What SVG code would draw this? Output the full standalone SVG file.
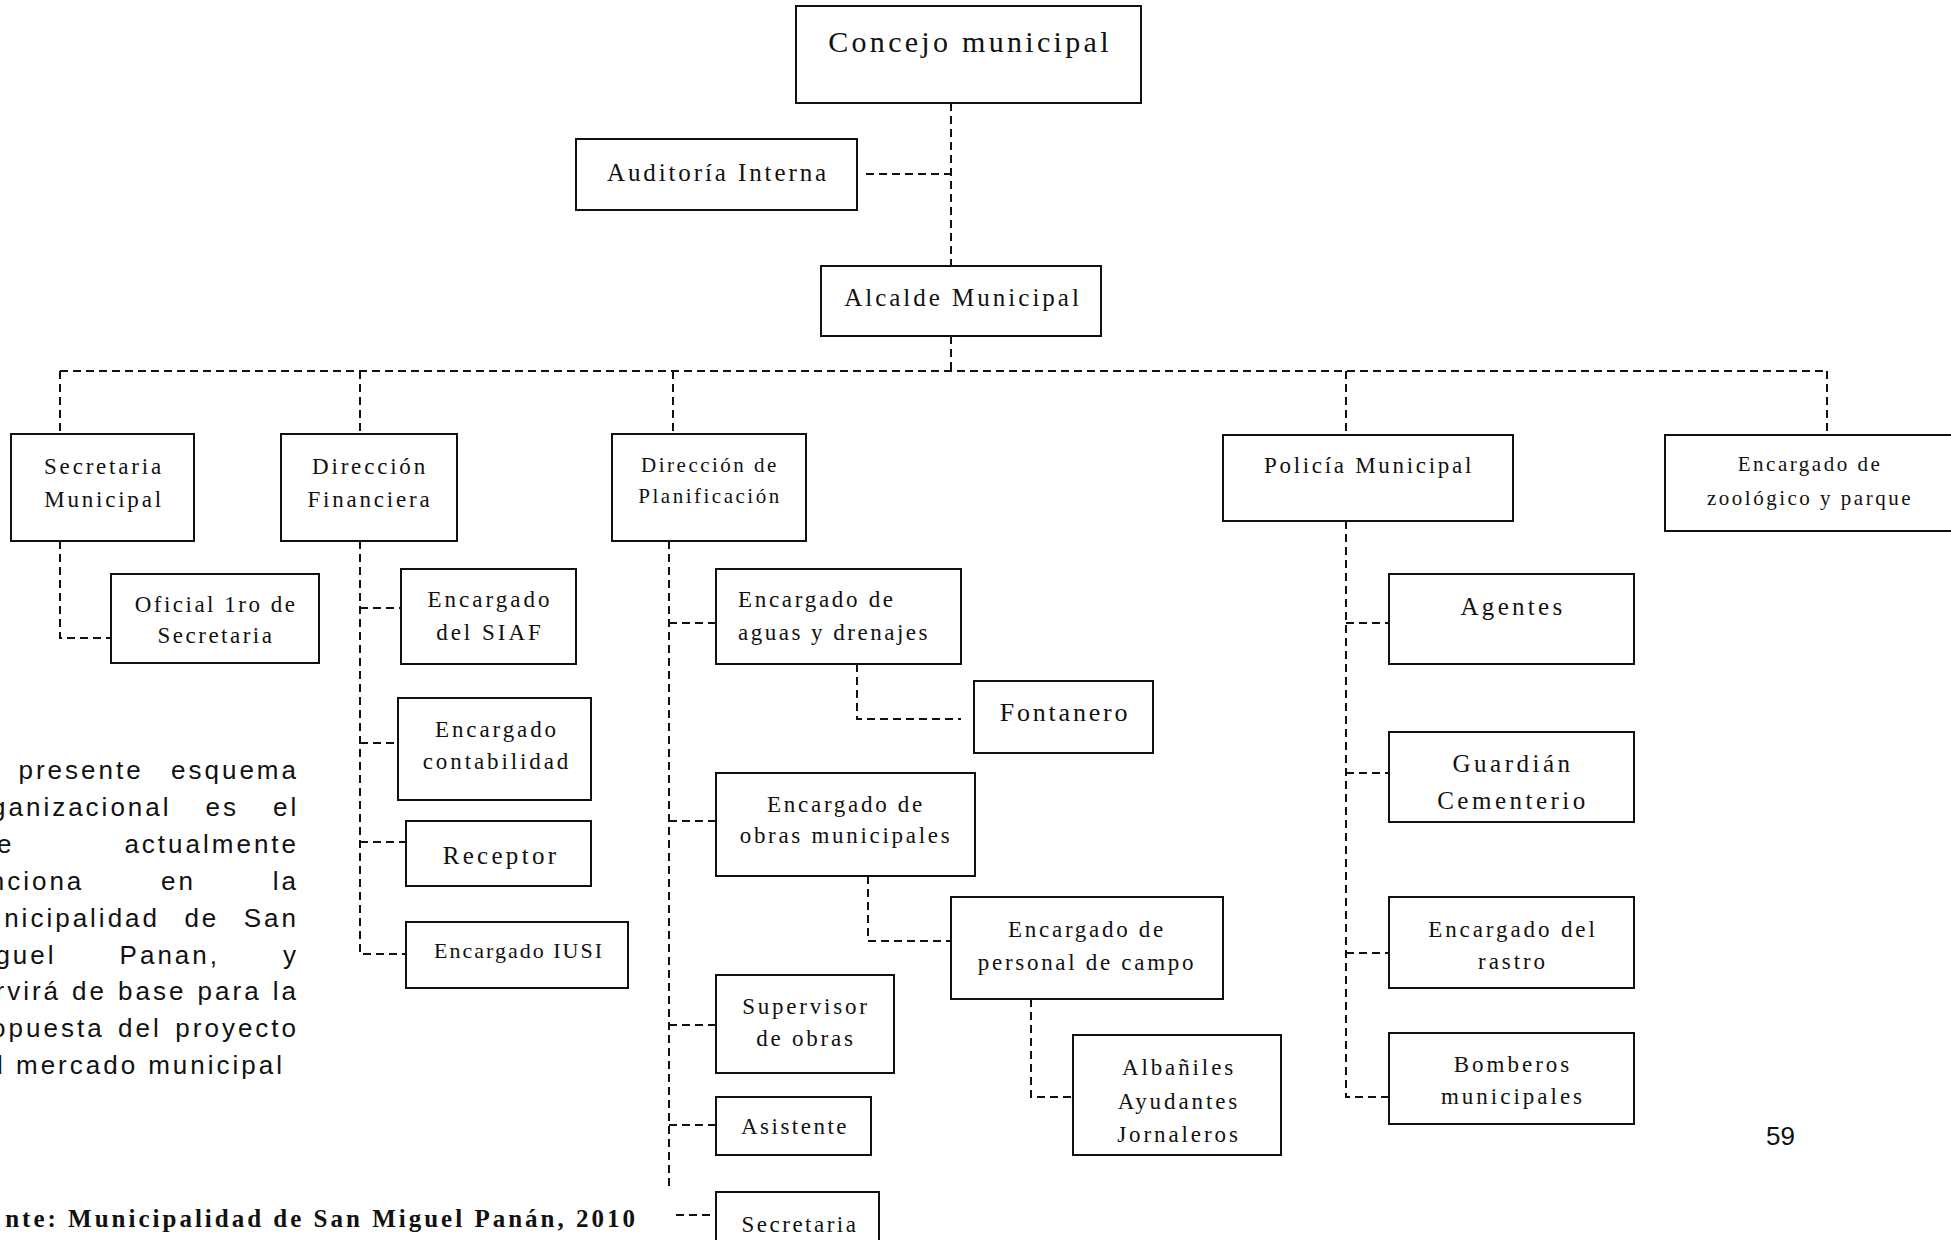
<svg xmlns="http://www.w3.org/2000/svg" width="1951" height="1240" viewBox="0 0 1951 1240">
<style>
.box{fill:#fff;stroke:#111;stroke-width:2}
.c{fill:none;stroke:#111;stroke-width:2;stroke-dasharray:8 5}
.t{font-family:"Liberation Serif","Times New Roman",serif;fill:#111;text-anchor:middle}
.f21{font-size:21px;letter-spacing:2.5px}
.f22{font-size:22px;letter-spacing:2px}
.f23{font-size:23px;letter-spacing:2.8px}
.f26{font-size:26px;letter-spacing:2.8px}
.p{font-family:"Liberation Sans",Arial,sans-serif;font-size:26px;letter-spacing:3px;fill:#111}
.foot{font-family:"Liberation Serif","Times New Roman",serif;font-size:25px;font-weight:bold;letter-spacing:3px;fill:#111;text-anchor:end}
</style>
<rect width="1951" height="1240" fill="#fff"/>
<g id="connectors">
<path class="c" d="M951,103V266M866,174H951M951,336V371M60,371H1827M60,371V434M360,371V434M673,371V434M1346,371V435M1827,371V435"/>
<path class="c" d="M60,541V638H111"/>
<path class="c" d="M360,541V954H406M360,608H401M360,743H398M360,842H406"/>
<path class="c" d="M669,541V1187M669,623H716M669,821H716M669,1025H716M669,1125H716M676,1215H712"/>
<path class="c" d="M857,664V719H961M868,876V941H951M1031,999V1097H1073"/>
<path class="c" d="M1346,521V1097H1389M1346,623H1389M1346,773H1389M1346,953H1389"/>
</g>
<g id="concejo"><rect class="box" x="796" y="6" width="345" height="97"/><text class="t" x="970" y="52" style="font-size:30px;letter-spacing:3.3px">Concejo municipal</text></g>
<g id="auditoria"><rect class="box" x="576" y="139" width="281" height="71"/><text class="t" x="718" y="181" style="font-size:25px;letter-spacing:2.9px">Auditoría Interna</text></g>
<g id="alcalde"><rect class="box" x="821" y="266" width="280" height="70"/><text class="t" x="963" y="306" style="font-size:25px;letter-spacing:3px">Alcalde Municipal</text></g>
<g id="secretaria-municipal"><rect class="box" x="11" y="434" width="183" height="107"/><text class="t f23" x="104" y="474">Secretaria</text><text class="t f23" x="104" y="507">Municipal</text></g>
<g id="direccion-financiera"><rect class="box" x="281" y="434" width="176" height="107"/><text class="t f23" x="370" y="474">Dirección</text><text class="t f23" x="370" y="507">Financiera</text></g>
<g id="direccion-planificacion"><rect class="box" x="612" y="434" width="194" height="107"/><text class="t f21" x="710" y="472">Dirección de</text><text class="t f21" x="710" y="503">Planificación</text></g>
<g id="policia"><rect class="box" x="1223" y="435" width="290" height="86"/><text class="t" x="1369" y="473" style="font-size:23px;letter-spacing:2.7px">Policía Municipal</text></g>
<g id="zoologico"><rect class="box" x="1665" y="435" width="300" height="96"/><text class="t f21" x="1810" y="471">Encargado de</text><text class="t f21" x="1810" y="505">zoológico y parque</text></g>
<g id="oficial"><rect class="box" x="111" y="574" width="208" height="89"/><text class="t" x="216" y="612" style="font-size:23px;letter-spacing:2.5px">Oficial 1ro de</text><text class="t" x="216" y="643" style="font-size:23px;letter-spacing:2.5px">Secretaria</text></g>
<g id="siaf"><rect class="box" x="401" y="569" width="175" height="95"/><text class="t" x="490" y="607" style="font-size:23px;letter-spacing:3px">Encargado</text><text class="t" x="490" y="640" style="font-size:23px;letter-spacing:3px">del SIAF</text></g>
<g id="contabilidad"><rect class="box" x="398" y="698" width="193" height="102"/><text class="t" x="497" y="737" style="font-size:23px;letter-spacing:2.9px">Encargado</text><text class="t" x="497" y="769" style="font-size:23px;letter-spacing:2.9px">contabilidad</text></g>
<g id="receptor"><rect class="box" x="406" y="821" width="185" height="65"/><text class="t" x="501" y="864" style="font-size:25px;letter-spacing:3.3px">Receptor</text></g>
<g id="iusi"><rect class="box" x="406" y="922" width="222" height="66"/><text class="t f22" x="519" y="958">Encargado IUSI</text></g>
<g id="aguas"><rect class="box" x="716" y="569" width="245" height="95"/><text class="t" x="738" y="607" style="font-size:23px;letter-spacing:2.7px;text-anchor:start">Encargado de</text><text class="t" x="738" y="640" style="font-size:23px;letter-spacing:2.5px;text-anchor:start">aguas y drenajes</text></g>
<g id="fontanero"><rect class="box" x="974" y="681" width="179" height="72"/><text class="t f26" x="1065" y="721">Fontanero</text></g>
<g id="obras"><rect class="box" x="716" y="773" width="259" height="103"/><text class="t" x="846" y="812" style="font-size:23px;letter-spacing:2.7px">Encargado de</text><text class="t" x="846" y="843" style="font-size:23px;letter-spacing:2.7px">obras municipales</text></g>
<g id="personal"><rect class="box" x="951" y="897" width="272" height="102"/><text class="t" x="1087" y="937" style="font-size:23px;letter-spacing:2.7px">Encargado de</text><text class="t" x="1087" y="970" style="font-size:23px;letter-spacing:2.7px">personal de campo</text></g>
<g id="albaniles"><rect class="box" x="1073" y="1035" width="208" height="120"/><text class="t" x="1179" y="1075" style="font-size:23px;letter-spacing:2.9px">Albañiles</text><text class="t" x="1179" y="1109" style="font-size:23px;letter-spacing:2.9px">Ayudantes</text><text class="t" x="1179" y="1142" style="font-size:23px;letter-spacing:2.9px">Jornaleros</text></g>
<g id="supervisor"><rect class="box" x="716" y="975" width="178" height="98"/><text class="t f23" x="806" y="1014">Supervisor</text><text class="t f23" x="806" y="1046">de obras</text></g>
<g id="asistente"><rect class="box" x="716" y="1097" width="155" height="58"/><text class="t" x="795" y="1134" style="font-size:23px;letter-spacing:2.5px">Asistente</text></g>
<g id="secretaria"><rect class="box" x="716" y="1192" width="163" height="70"/><text class="t" x="800" y="1232" style="font-size:23px;letter-spacing:2.5px">Secretaria</text></g>
<g id="agentes"><rect class="box" x="1389" y="574" width="245" height="90"/><text class="t" x="1513" y="615" style="font-size:25px;letter-spacing:3.3px">Agentes</text></g>
<g id="guardian"><rect class="box" x="1389" y="732" width="245" height="90"/><text class="t" x="1513" y="772" style="font-size:25px;letter-spacing:3.5px">Guardián</text><text class="t" x="1513" y="809" style="font-size:25px;letter-spacing:3.5px">Cementerio</text></g>
<g id="rastro"><rect class="box" x="1389" y="897" width="245" height="91"/><text class="t" x="1513" y="937" style="font-size:23px;letter-spacing:2.9px">Encargado del</text><text class="t" x="1513" y="969" style="font-size:23px;letter-spacing:2.9px">rastro</text></g>
<g id="bomberos"><rect class="box" x="1389" y="1033" width="245" height="91"/><text class="t" x="1513" y="1072" style="font-size:23px;letter-spacing:3px">Bomberos</text><text class="t" x="1513" y="1104" style="font-size:23px;letter-spacing:3px">municipales</text></g>
<g id="paragraph">
<text class="p" y="779"><tspan x="18.5">presente</tspan><tspan x="171">esquema</tspan></text>
<text class="p" y="816"><tspan x="-9">ganizacional</tspan><tspan x="205.5">es</tspan><tspan x="273">el</tspan></text>
<text class="p" y="853"><tspan x="-3">e</tspan><tspan x="124.4">actualmente</tspan></text>
<text class="p" y="890"><tspan x="-10.3">nciona</tspan><tspan x="161">en</tspan><tspan x="272.8">la</tspan></text>
<text class="p" y="927"><tspan x="-13.3">unicipalidad</tspan><tspan x="184.4">de</tspan><tspan x="243.7">San</tspan></text>
<text class="p" y="964"><tspan x="-4.6">guel</tspan><tspan x="119.6">Panan,</tspan><tspan x="283">y</tspan></text>
<text class="p" y="1000"><tspan x="-4.5">rvirá</tspan><tspan x="72">de</tspan><tspan x="118">base</tspan><tspan x="197.6">para</tspan><tspan x="272.7">la</tspan></text>
<text class="p" y="1037"><tspan x="-8.9">opuesta</tspan><tspan x="118">del</tspan><tspan x="175.3">proyecto</tspan></text>
<text class="p" y="1074"><tspan x="-3.1">l</tspan><tspan x="16">mercado</tspan><tspan x="148.2">municipal</tspan></text>
</g>
<text class="foot" x="638" y="1227">nte: Municipalidad de San Miguel Panán, 2010</text>
<text x="1766" y="1145" style="font-family:'Liberation Sans',Arial,sans-serif;font-size:26px;fill:#111">59</text>
</svg>
